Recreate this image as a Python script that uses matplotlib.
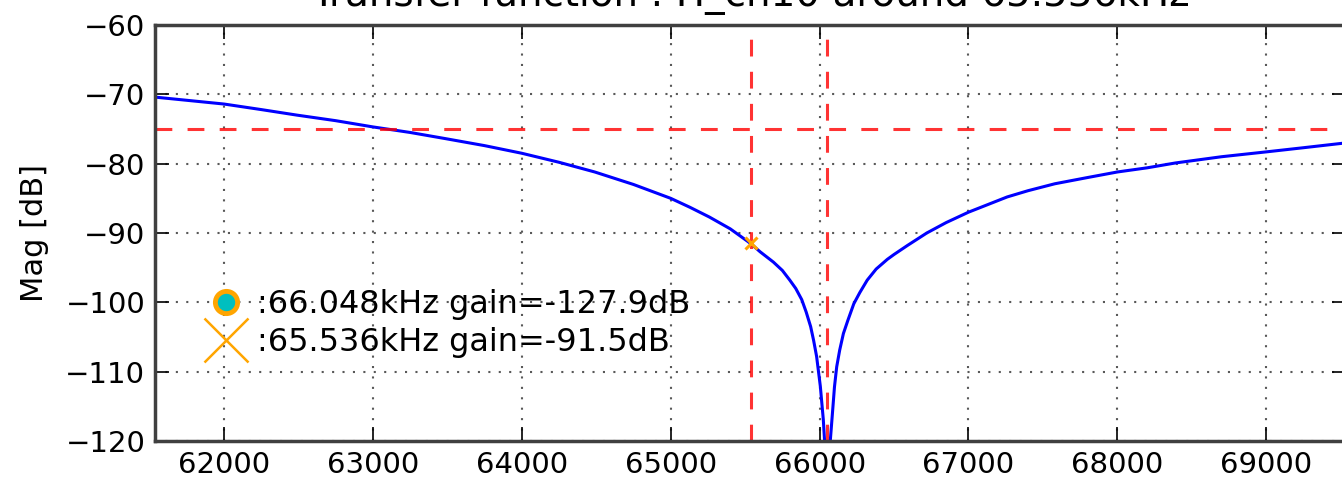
import matplotlib
matplotlib.use("Agg")
import matplotlib.pyplot as plt
from matplotlib.lines import Line2D

# transfer function (Hz, dB)
freq = [61536, 62000, 62250, 62490, 62750, 63000, 63250, 63490, 63750, 64000,
        64250, 64490, 64750, 65000, 65130, 65260, 65400, 65536, 65600, 65690,
        65750, 65800, 65840, 65880, 65910, 65940, 65960, 65980, 66005, 66025,
        66035, 66048, 66070, 66090, 66100, 66115, 66135, 66160, 66190, 66230,
        66270, 66320, 66380, 66455, 66500, 66590, 66720, 66850, 67000, 67130,
        67260, 67400, 67580, 67800, 68000, 68200, 68390, 68700, 69000, 69250,
        69536]
mag = [-70.4, -71.4, -72.2, -73.0, -73.8, -74.7, -75.5, -76.4, -77.4, -78.5,
       -79.8, -81.2, -83.0, -85.0, -86.3, -87.7, -89.4, -91.5, -92.7, -94.2,
       -95.4, -96.8, -98.0, -99.6, -101.4, -103.5, -105.5, -107.8, -112.1, -116.9,
       -120.5, -127.9, -120.5, -115.0, -112.2, -109.3, -106.9, -104.5, -102.6, -100.2,
       -98.6, -96.8, -95.2, -93.8, -93.1, -91.8, -90.0, -88.5, -87.0, -85.9,
       -84.8, -83.9, -82.9, -82.0, -81.2, -80.6, -79.9, -79.0, -78.3, -77.7,
       -77.0]

f_center = 65536
f_notch = 66048
gain_center = -91.5
gain_notch = -127.9
threshold = -75

xticks = [62000, 63000, 64000, 65000, 66000, 67000, 68000, 69000]
yticks = [-60, -70, -80, -90, -100, -110, -120]

plt.rcParams['font.family'] = 'DejaVu Sans'

fig = plt.figure(figsize=(13.42, 4.80), dpi=100)
ax = fig.add_axes([155/1342., 39/480., 1191/1342., 416/480.])

ax.plot(freq, mag, color='blue', lw=2.2)
# limits: threshold and the two frequencies of interest
ax.axhline(threshold, color='red', alpha=0.8, lw=2.2, dashes=(5.5, 5))
ax.axvline(f_center, color='red', alpha=0.8, lw=2.2, dashes=(5.5, 5))
ax.axvline(f_notch, color='red', alpha=0.8, lw=2.2, dashes=(5.5, 5))
ax.plot([f_center], [gain_center], 'x', color='orange', ms=9, mew=2.2)
ax.plot([f_notch], [gain_notch], 'o', mfc='c', mec='orange', ms=14, mew=3)

ax.set_xlim(f_center - 4000, f_center + 4000)
ax.set_ylim(-120, -60)
ax.set_xticks(xticks)
ax.set_yticks(yticks)
ax.grid(True, color='0.35', linestyle=(0, (1, 4)), lw=1.5)
ax.tick_params(direction='in', length=10, width=1.2, labelsize=21,
               top=True, right=True, pad=7)
for s in ax.spines.values():
    s.set_linewidth(2.5)
    s.set_color('0.25')

ax.set_ylabel('Mag [dB]', fontsize=22, labelpad=12)
ax.set_title('Transfer function : H_ch10 around 65.536kHz', fontsize=28, pad=14)

handles = [
    Line2D([], [], ls='none', marker='o', mfc='c', mec='orange', ms=16, mew=3.5),
    Line2D([], [], ls='none', marker='x', color='orange', ms=32, mew=1.8),
]
labels = [':%.3fkHz gain=%.1fdB' % (f_notch / 1000., gain_notch),
          ':%.3fkHz gain=%.1fdB' % (f_center / 1000., gain_center)]
ax.legend(handles, labels, loc='upper left', bbox_to_anchor=(0.033, 0.395),
          frameon=False, fontsize=23, handlelength=1.2, handletextpad=0.35,
          labelspacing=0.2, borderaxespad=0, numpoints=1)

fig.savefig('out.png', dpi=100)
